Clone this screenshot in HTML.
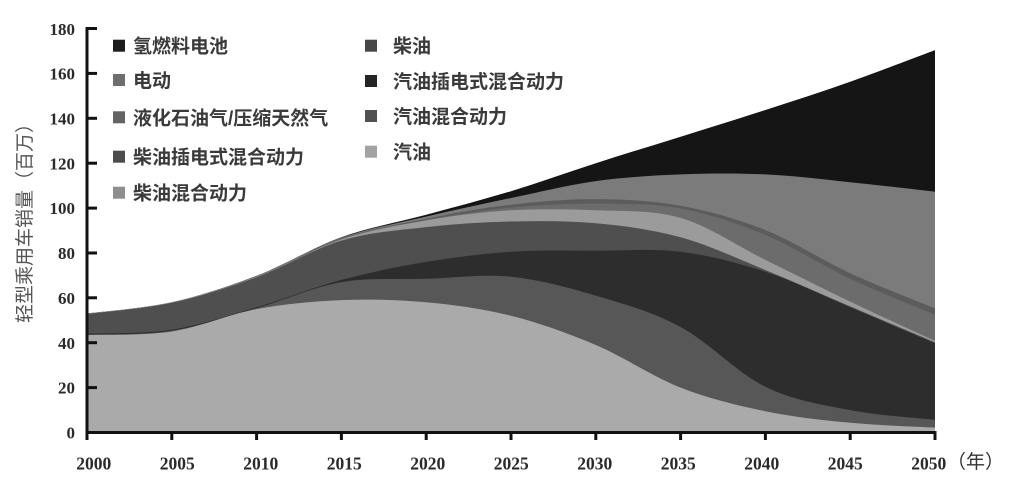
<!DOCTYPE html>
<html>
<head>
<meta charset="utf-8">
<style>
  html,body{margin:0;padding:0;background:#fff;}
  svg{display:block;}
  .tk{font-family:"Liberation Serif",serif;font-size:17px;fill:#2a2a2a;font-weight:bold;}
  .xl{font-family:"Liberation Serif",serif;font-size:17.5px;fill:#2a2a2a;font-weight:bold;}
  .lg{font-family:"Liberation Sans","Noto Sans CJK SC",sans-serif;font-size:19px;fill:#3a3a3a;font-weight:bold;}
  .yl{font-family:"Liberation Sans","Noto Sans CJK SC",sans-serif;font-size:19px;fill:#555;}
</style>
</head>
<body>
<svg width="1014" height="479" viewBox="0 0 1014 479" xmlns="http://www.w3.org/2000/svg">
  <rect width="1014" height="479" fill="#fff"/>

  <!-- stacked areas, painted top boundary first -->
  <path class="ar" fill="#151515" d="M87,313.5 L171.8,302.3 L256.6,275.8 L341.4,237.2 L426.2,214.8 L511,191.2 L595.8,163.2 L680.6,136.7 L765.4,110.0 L850.2,81.7 L935,50.1 L935,432.5 L87,432.5 Z"/>
  <path class="ar" fill="#7b7b7b" d="M87,313.5 L171.8,302.3 L256.6,275.8 L341.4,237.7 L426.2,216.6 L511,198.0 L595.8,181.1 L680.6,174.4 L765.4,174.4 L850.2,182.2 L935,191.7 L935,432.5 L87,432.5 Z"/>
  <path class="ar" fill="#5c5c5c" d="M87,313.5 L171.8,302.3 L256.6,276.3 L341.4,238.4 L426.2,218.8 L511,204.7 L595.8,199.1 L680.6,205.8 L765.4,230.1 L850.2,273.2 L935,308.4 L935,432.5 L87,432.5 Z"/>
  <path class="ar" fill="#6c6c6c" d="M87,313.5 L171.8,302.3 L256.6,276.5 L341.4,238.8 L426.2,220.0 L511,207.6 L595.8,203.6 L680.6,208.5 L765.4,235.0 L850.2,278.8 L935,314.7 L935,432.5 L87,432.5 Z"/>
  <path class="ar" fill="#9b9b9b" d="M87,313.5 L171.8,302.3 L256.6,276.7 L341.4,239.5 L426.2,220.4 L511,210.3 L595.8,210.3 L680.6,217.9 L765.4,259.9 L850.2,301.6 L935,340.9 L935,432.5 L87,432.5 Z"/>
  <path class="ar" fill="#4f4f4f" d="M87,314.0 L171.8,302.8 L256.6,277.2 L341.4,240.6 L426.2,227.1 L511,221.5 L595.8,223.3 L680.6,237.2 L765.4,270.0 L850.2,306.4 L935,342.3 L935,432.5 L87,432.5 Z"/>
  <path class="ar" fill="#2d2d2d" d="M87,333.7 L171.8,329.7 L256.6,307.3 L341.4,279.9 L426.2,261.9 L511,251.8 L595.8,250.7 L680.6,251.8 L765.4,271.8 L850.2,307.3 L935,343.4 L935,432.5 L87,432.5 Z"/>
  <path class="ar" fill="#575757" d="M87,334.6 L171.8,330.8 L256.6,308.2 L341.4,282.1 L426.2,278.8 L511,276.7 L595.8,295.6 L680.6,327.0 L765.4,386.7 L850.2,410.1 L935,419.9 L935,432.5 L87,432.5 Z"/>
  <path class="ar" fill="#aaaaaa" d="M87,335.1 L171.8,331.5 L256.6,309.1 L341.4,300.1 L426.2,302.3 L511,315.8 L595.8,345.0 L680.6,387.6 L765.4,411.2 L850.2,422.8 L935,427.6 L935,432.5 L87,432.5 Z"/>

  <!-- axes -->
  <g stroke="#111" stroke-width="3" fill="none">
    <line x1="87" y1="27" x2="87" y2="434"/>
    <line x1="85.5" y1="432.5" x2="936.5" y2="432.5"/>
    <line x1="87" y1="28.5" x2="97" y2="28.5"/>
    <line x1="87" y1="73.4" x2="97" y2="73.4"/>
    <line x1="87" y1="118.3" x2="97" y2="118.3"/>
    <line x1="87" y1="163.2" x2="97" y2="163.2"/>
    <line x1="87" y1="208.1" x2="97" y2="208.1"/>
    <line x1="87" y1="253" x2="97" y2="253"/>
    <line x1="87" y1="297.8" x2="97" y2="297.8"/>
    <line x1="87" y1="342.7" x2="97" y2="342.7"/>
    <line x1="87" y1="387.6" x2="97" y2="387.6"/>
    <line x1="87" y1="432.5" x2="87" y2="440"/>
    <line x1="171.8" y1="432.5" x2="171.8" y2="440"/>
    <line x1="256.6" y1="432.5" x2="256.6" y2="440"/>
    <line x1="341.4" y1="432.5" x2="341.4" y2="440"/>
    <line x1="426.2" y1="432.5" x2="426.2" y2="440"/>
    <line x1="511" y1="432.5" x2="511" y2="440"/>
    <line x1="595.8" y1="432.5" x2="595.8" y2="440"/>
    <line x1="680.6" y1="432.5" x2="680.6" y2="440"/>
    <line x1="765.4" y1="432.5" x2="765.4" y2="440"/>
    <line x1="850.2" y1="432.5" x2="850.2" y2="440"/>
    <line x1="935" y1="432.5" x2="935" y2="440"/>
  </g>

  <!-- y tick labels -->
  <g class="tk" text-anchor="end">
    <text x="75" y="35">180</text>
    <text x="75" y="79.5">160</text>
    <text x="75" y="124.4">140</text>
    <text x="75" y="169.3">120</text>
    <text x="75" y="214.2">100</text>
    <text x="75" y="259.1">80</text>
    <text x="75" y="303.9">60</text>
    <text x="75" y="348.8">40</text>
    <text x="75" y="393.7">20</text>
    <text x="75" y="438.6">0</text>
  </g>

  <!-- x tick labels -->
  <g class="xl" text-anchor="middle">
    <text x="93.8" y="469.5">2000</text>
    <text x="177.3" y="469.5">2005</text>
    <text x="260.8" y="469.5">2010</text>
    <text x="344.3" y="469.5">2015</text>
    <text x="427.8" y="469.5">2020</text>
    <text x="511.3" y="469.5">2025</text>
    <text x="594.8" y="469.5">2030</text>
    <text x="678.3" y="469.5">2035</text>
    <text x="761.8" y="469.5">2040</text>
    <text x="845.3" y="469.5">2045</text>
    <text x="928.8" y="469.5">2050</text>
  </g>
  <text class="lg" x="947" y="468" style="font-weight:normal;fill:#333">（年）</text>

  <!-- y axis title -->
  <text class="yl" transform="translate(31,218.5) rotate(-90)" text-anchor="middle">轻型乘用车销量（百万）</text>

  <!-- legend left -->
  <rect x="113" y="39.7" width="12" height="12" fill="#1c1c1c"/>
  <text class="lg" x="133" y="52.5">氢燃料电池</text>
  <rect x="113" y="74" width="12" height="12" fill="#6e6e6e"/>
  <text class="lg" x="133" y="87">电动</text>
  <rect x="113" y="111.3" width="12" height="12" fill="#646464"/>
  <text class="lg" x="133" y="124.3">液化石油气/压缩天然气</text>
  <rect x="113" y="150.7" width="12" height="12" fill="#4c4c4c"/>
  <text class="lg" x="133" y="163.7">柴油插电式混合动力</text>
  <rect x="113" y="186.7" width="12" height="12" fill="#8e8e8e"/>
  <text class="lg" x="133" y="199.7">柴油混合动力</text>

  <!-- legend right -->
  <rect x="365" y="39.7" width="12" height="12" fill="#474747"/>
  <text class="lg" x="393" y="52.5">柴油</text>
  <rect x="365" y="75" width="12" height="12" fill="#252525"/>
  <text class="lg" x="393" y="88">汽油插电式混合动力</text>
  <rect x="365" y="110" width="12" height="12" fill="#505050"/>
  <text class="lg" x="393" y="123">汽油混合动力</text>
  <rect x="365" y="145.7" width="12" height="12" fill="#a2a2a2"/>
  <text class="lg" x="393" y="158.7">汽油</text>
</svg>
<script>
(function(){
  var paths = document.querySelectorAll('path.ar');
  for (var k = 0; k < paths.length; k++) {
    var p = paths[k];
    var nums = p.getAttribute('d').match(/-?\d+(\.\d+)?/g).map(Number);
    var pts = [];
    for (var i = 0; i < 22; i += 2) pts.push([nums[i], nums[i+1]]);
    var n = pts.length;
    var d = 'M' + pts[0][0] + ',' + pts[0][1];
    for (var j = 0; j < n - 1; j++) {
      var p0 = pts[Math.max(0, j-1)], p1 = pts[j], p2 = pts[j+1], p3 = pts[Math.min(n-1, j+2)];
      var c1x = p1[0] + (p2[0]-p0[0])/6, c1y = p1[1] + (p2[1]-p0[1])/6;
      var c2x = p2[0] - (p3[0]-p1[0])/6, c2y = p2[1] - (p3[1]-p1[1])/6;
      d += ' C' + c1x.toFixed(2) + ',' + c1y.toFixed(2) + ' ' + c2x.toFixed(2) + ',' + c2y.toFixed(2) + ' ' + p2[0] + ',' + p2[1];
    }
    d += ' L935,432.5 L87,432.5 Z';
    p.setAttribute('d', d);
  }
})();
</script>
</body>
</html>
